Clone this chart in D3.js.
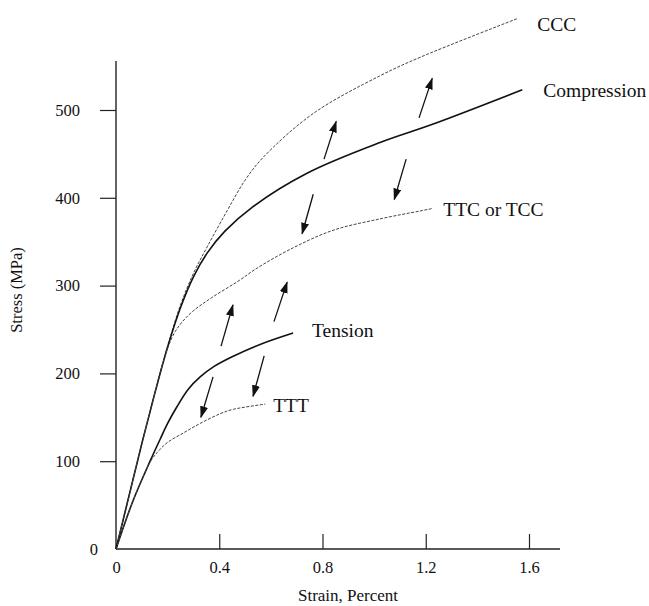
<!DOCTYPE html>
<html>
<head>
<meta charset="utf-8">
<script src="https://cdn.jsdelivr.net/npm/d3@7"></script>
<style>
  body { margin: 0; background: #fff; }
  text { font-family: "Liberation Serif", "Times New Roman", serif; fill: #111; }
</style>
</head>
<body>
<div id="vizcont"></div>
<script>
// curves: [strain %, stress MPa]
var compression = [[0,0],[0.05,60],[0.10,120],[0.15,177],[0.20,230],[0.25,275],[0.30,310],[0.353,337],
                   [0.422,362],[0.531,390],[0.74,428],[1.023,463],[1.229,484],[1.574,523]];
var ccc = [[0,0],[0.05,60],[0.10,120],[0.15,177],[0.20,231],[0.25,278],[0.30,314],[0.353,344],[0.43,385],
           [0.50,420],[0.57,446],[0.764,496],[1.023,539],[1.178,560],[1.554,604]];
var ttc = [[0,0],[0.05,60],[0.10,120],[0.15,177],[0.19,220],[0.23,248],[0.287,268],[0.364,285],[0.473,305],
           [0.547,320],[0.686,343],[0.841,363],[1.023,376],[1.178,385],[1.229,388]];
var tension = [[0,0],[0.066,55],[0.132,100],[0.171,125],[0.20,143],[0.236,162],[0.28,182],[0.326,196],
               [0.38,208],[0.45,219],[0.558,233],[0.686,246]];
var ttt = [[0,0],[0.066,55],[0.132,99],[0.16,110],[0.198,121],[0.26,132],[0.326,143],[0.403,154],
           [0.453,159],[0.578,165]];

var curveNames = ["CCC", "Compression", "TTC or TCC", "Tension", "TTT"];
var curveData = [ccc, compression, ttc, tension, ttt];
var curveDashed = [true, false, true, false, true];

// arrows: [from strain, from stress, to strain, to stress]
var arrows = [[0.806,444,0.853,487],[0.764,404,0.721,359],[1.124,444,1.078,398],[1.174,491,1.225,536],
              [0.407,231,0.453,278],[0.612,259,0.663,304],[0.376,196,0.329,150],[0.574,220,0.531,174]];

var xTicks = [0, 0.4, 0.8, 1.2, 1.6];
var yTicks = [0, 100, 200, 300, 400, 500];

var width = 649, height = 606;
var svg = d3.select("#vizcont").append("svg")
    .attr("width", width).attr("height", height);

var x = d3.scaleLinear().domain([0, 1.6]).range([116, 529]);
var y = d3.scaleLinear().domain([0, 500]).range([549, 110]);

// axes
var xAxis = svg.append("g")
    .attr("transform", "translate(0," + y(0) + ")")
    .call(d3.axisBottom(x).tickValues(xTicks).tickSizeInner(-15).tickSizeOuter(0)
        .tickPadding(12).tickFormat(function(d) { return d === 0 ? "0" : d3.format(".1f")(d); }));
xAxis.select(".domain").attr("d", "M" + x(0) + ",0H560").attr("stroke", "#222").attr("stroke-width", 1.4);
xAxis.selectAll(".tick line").attr("stroke", "#222").attr("stroke-width", 1.2)
    .filter(function(d) { return d === 0; }).remove();
xAxis.selectAll(".tick text").style("font-size", "16.5px").style("font-family", "Liberation Serif").attr("fill", "#111");

var yAxis = svg.append("g")
    .attr("transform", "translate(" + x(0) + ",0)")
    .call(d3.axisLeft(y).tickValues(yTicks).tickSize(16).tickPadding(20));
yAxis.select(".domain").attr("d", "M0," + y(0) + "V61").attr("stroke", "#222").attr("stroke-width", 1.4);
yAxis.selectAll(".tick line").attr("stroke", "#222").attr("stroke-width", 1.2)
    .filter(function(d) { return d === 0; }).remove();
yAxis.selectAll(".tick text").style("font-size", "16.5px").style("font-family", "Liberation Serif").attr("fill", "#111")
    .filter(function(d) { return d === 0; }).attr("x", -18);

svg.append("text")
    .attr("x", (x(0) + 560) / 2 + 10).attr("y", 601)
    .attr("text-anchor", "middle").style("font-size", "17px")
    .text("Strain, Percent");
svg.append("text")
    .attr("transform", "translate(22,290) rotate(-90)")
    .attr("text-anchor", "middle").style("font-size", "16.5px")
    .text("Stress (MPa)");

// curves
var line = d3.line()
    .x(function(d) { return x(d[0]); })
    .y(function(d) { return y(d[1]); })
    .curve(d3.curveCatmullRom.alpha(0.5));

var labelOffsets = [[20, 5], [21, 0], [10, 1], [19, -3], [8, 1]];

curveData.forEach(function(pts, i) {
    svg.append("path")
        .attr("d", line(pts))
        .attr("fill", "none")
        .attr("stroke", curveDashed[i] ? "#444" : "#111")
        .attr("stroke-width", curveDashed[i] ? 1 : 1.6)
        .attr("stroke-dasharray", curveDashed[i] ? "3,1.5" : null);
    var last = pts[pts.length - 1];
    svg.append("text")
        .attr("x", x(last[0]) + labelOffsets[i][0])
        .attr("y", y(last[1]) + labelOffsets[i][1])
        .attr("dy", "0.35em")
        .style("font-size", "19.5px")
        .text(curveNames[i]);
});

// arrows
svg.append("defs").append("marker")
    .attr("id", "head")
    .attr("viewBox", "0 0 12 8")
    .attr("refX", 11).attr("refY", 4)
    .attr("markerWidth", 12).attr("markerHeight", 8)
    .attr("markerUnits", "userSpaceOnUse")
    .attr("orient", "auto")
  .append("path")
    .attr("d", "M0,0L12,4L0,8Z")
    .attr("fill", "#111");

svg.selectAll(".arrow")
    .data(arrows)
    .enter()
    .append("line")
    .attr("class", "arrow")
    .attr("x1", function(d) { return x(d[0]); })
    .attr("y1", function(d) { return y(d[1]); })
    .attr("x2", function(d) { return x(d[2]); })
    .attr("y2", function(d) { return y(d[3]); })
    .attr("stroke", "#111")
    .attr("stroke-width", 1.3)
    .attr("marker-end", "url(#head)");
</script>
</body>
</html>
